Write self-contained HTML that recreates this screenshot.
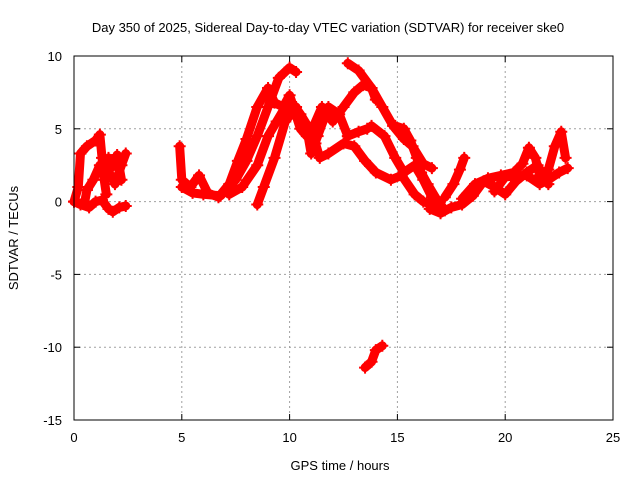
<!DOCTYPE html>
<html><head><meta charset="utf-8"><style>
body{margin:0;background:#fff;}
svg text{font-family:"Liberation Sans",sans-serif;font-size:13px;fill:#000;}
</style></head><body>
<svg id="chart" width="640" height="480">
<text x="328" y="32" text-anchor="middle">Day 350 of 2025, Sidereal Day-to-day VTEC variation (SDTVAR) for receiver ske0</text>
<text x="340" y="470" text-anchor="middle">GPS time / hours</text>
<text transform="translate(18,238) rotate(-90)" text-anchor="middle">SDTVAR / TECUs</text>
<g id="grid"></g><g id="ticks"></g><g id="marks"></g>
<rect x="74" y="56" width="539" height="364" fill="none" stroke="#000" stroke-width="1"/>
</svg>
<script>
const xTicks=[0,5,10,15,20,25];
const yTicks=[10,5,0,-5,-10,-15];
const trackA1=[[0,0],[0.2,1],[0.3,3.3],[0.6,3.8],[1.0,4.2],[1.2,4.6],[1.3,3],[1.4,1.5],[1.5,0.5]];
const trackA2=[[0,0],[0.3,-0.2],[0.7,-0.4],[1.0,0],[1.3,0.1],[1.6,-0.5],[1.8,-0.7],[2.1,-0.4],[2.4,-0.3]];
const trackA3=[[0.5,0],[0.6,0.8],[0.9,1.5],[1.2,2.5],[1.4,2.2],[1.7,1.8],[1.9,1.2],[2.2,2.5],[2.4,3.3]];
const trackA4=[[1.4,2.3],[1.6,3.0],[1.8,2.4],[2.0,3.2],[2.2,1.5]];
const trackT1=[[4.9,3.8],[5.0,1.5],[5.4,1.0],[5.8,1.8],[6.2,0.6],[6.7,0.3],[7.2,1.2],[7.6,2.8],[8.0,4.3],[8.5,6.5],[9.0,7.8],[9.3,6.8],[9.7,6.5],[10.0,7.3],[10.5,5.0],[10.8,4.5]];
const trackT2=[[5.0,1.0],[5.5,0.6],[6.0,0.5],[6.8,0.4],[7.5,1.5],[8.0,2.8],[8.5,4.5],[9.0,6.5],[9.5,8.5],[10.0,9.2],[10.3,8.9]];
const trackT3=[[7.2,0.5],[7.8,1.0],[8.5,2.5],[9.0,4.5],[9.4,5.5],[10.0,7.0],[10.5,6.0],[11.0,4.8],[11.5,6.5],[12.0,5.5],[12.5,6.5],[13.0,7.5],[13.4,8.0],[13.8,7.8],[14.0,7.0]];
const trackT4=[[8.5,-0.2],[8.8,1.0],[9.3,3.0],[9.8,5.5],[10.3,6.5],[10.8,5.0],[11.0,3.3],[11.3,4.5],[11.8,6.5],[12.3,6.0],[12.7,4.5],[13.2,4.8],[13.6,5.0]];
const trackT5=[[11.2,4.0],[11.4,3.0],[11.8,3.3],[12.5,4.0],[13.0,3.8],[13.5,2.8],[14.0,2.0],[14.7,1.5],[15.2,1.8],[15.8,0.5],[16.2,0.0],[16.6,-0.2]];
const trackT6=[[12.7,9.5],[13.2,9.0],[13.8,7.8],[14.3,6.5],[14.8,5.2],[15.3,4.3],[15.7,3.8],[16.2,2.6],[16.6,2.3]];
const trackT7=[[14.9,5.2],[15.3,5.0],[15.6,4.2],[15.9,3.0],[16.1,2.0],[16.4,1.2],[16.8,0.2],[17.2,-0.6]];
const trackT8=[[13.8,5.2],[14.4,4.5],[14.9,3.0],[15.3,2.0],[15.8,2.5],[16.2,1.5],[16.6,0.3],[17.0,-0.4]];
const trackT9=[[16.5,-0.5],[17.0,-0.8],[17.5,-0.4],[18.0,-0.2],[18.5,0.4],[19.0,1.4],[19.5,1.0],[20.0,0.5],[20.5,1.4],[21.0,2.0],[21.5,2.5],[22.0,1.2]];
const trackT10=[[17.2,0.3],[17.6,1.2],[17.9,2.2],[18.1,3.0]];
const trackT11=[[18.0,0.2],[18.6,1.2],[19.2,1.6],[19.8,1.8],[20.4,2.0],[20.8,2.6],[21.1,3.7],[21.4,3.0],[21.6,1.8],[22.0,2.2],[22.3,3.8],[22.6,4.8],[22.8,3.0]];
const trackT12=[[19.5,0.7],[20.0,1.7],[21.0,1.8],[21.6,1.2],[22.0,1.5],[22.5,2.0],[22.9,2.3]];
const trackT13=[[13.5,-11.4],[13.8,-11.0],[14.0,-10.2],[14.3,-9.9]];
const tracks=[trackA1,trackA2,trackA3,trackA4,trackT1,trackT2,trackT3,trackT4,trackT5,trackT6,trackT7,trackT8,trackT9,trackT10,trackT11,trackT12,trackT13];
const X0=74,X1=613,Y0=420,Y1=56,xmin=0,xmax=25,ymin=-15,ymax=10;
function sx(v){return X0+(v-xmin)/(xmax-xmin)*(X1-X0);}
function sy(v){return Y0-(v-ymin)/(ymax-ymin)*(Y0-Y1);}
const NS="http://www.w3.org/2000/svg";
const grid=document.getElementById('grid'),ticks=document.getElementById('ticks'),marks=document.getElementById('marks');
function mk(tag,attrs,parent){const e=document.createElementNS(NS,tag);for(const k in attrs)e.setAttribute(k,attrs[k]);parent.appendChild(e);return e;}
xTicks.forEach(t=>{
  const x=sx(t);
  if(t>xmin&&t<xmax){const g=mk('line',{x1:x,x2:x,y1:Y1,y2:Y0,stroke:'#a0a0a0','stroke-dasharray':'2,3'},grid);
  
  }
  const l=mk('text',{x:x,y:Y0+22,'text-anchor':'middle'},ticks);l.textContent=t;
  
  
  mk('line',{x1:x,x2:x,y1:Y0,y2:Y0-6,stroke:'#000'},ticks);
  mk('line',{x1:x,x2:x,y1:Y1,y2:Y1+6,stroke:'#000'},ticks);
});
yTicks.forEach(t=>{
  const y=sy(t);
  if(t>ymin&&t<ymax){const g=mk('line',{x1:X0,x2:X1,y1:y,y2:y,stroke:'#a0a0a0','stroke-dasharray':'2,3'},grid);
  
  }
  const l=mk('text',{x:X0-12,y:y+5,'text-anchor':'end'},ticks);l.textContent=t;
  
  
  mk('line',{x1:X0,x2:X0+6,y1:y,y2:y,stroke:'#000'},ticks);
  mk('line',{x1:X1,x2:X1-6,y1:y,y2:y,stroke:'#000'},ticks);
});
tracks.forEach(tr=>{
  const pts=tr.map(p=>sx(p[0])+','+sy(p[1])).join(' ');
  const pl=mk('polyline',{points:pts,fill:'none',stroke:'#ff0000','stroke-width':9,'stroke-linejoin':'round','stroke-linecap':'round'},marks);
  
  
  tr.forEach(p=>{
    const x=sx(p[0]),y=sy(p[1]);
    const m=mk('path',{d:`M${x-6},${y}H${x+6}M${x},${y-6}V${y+6}`,stroke:'#ff0000','stroke-width':2},marks);
    
    
  });
});
</script>
</body></html>
